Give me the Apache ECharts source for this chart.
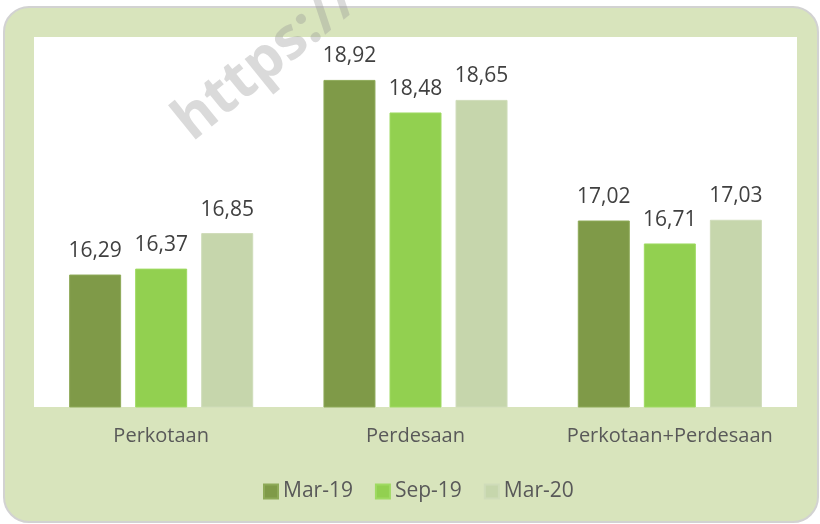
<!DOCTYPE html>
<html>
<head>
<meta charset="utf-8">
<script src="https://cdn.jsdelivr.net/npm/echarts@6/dist/echarts.min.js"></script>
<style>html,body{margin:0;padding:0;background:#fff;}#c{width:820px;height:524px;}</style>
</head>
<body>
<div id="c"></div>
<script>
var categories = ['Perkotaan', 'Perdesaan', 'Perkotaan+Perdesaan'];
var seriesNames = ['Mar-19', 'Sep-19', 'Mar-20'];
var mar19 = [16.29, 18.92, 17.02];
var sep19 = [16.37, 18.48, 16.71];
var mar20 = [16.85, 18.65, 17.03];
var colors = ['#7f9a48', '#92d050', '#c6d6ac'];
var borders = ['#8eaa58', '#9fda62', '#cfdcb9'];

var chart = echarts.init(document.getElementById('c'), null, {renderer: 'canvas'});
var font = '"Open Sans", "Noto Sans", sans-serif';
function fmt(v){ return v.toFixed(2).replace('.', ','); }
var data = [mar19, sep19, mar20];
var series = seriesNames.map(function(n, i){
  return {
    name: n, type: 'bar', data: data[i], barWidth: 52, barGap: '27%',
    itemStyle: {color: colors[i], borderColor: borders[i], borderWidth: 1},
    label: {show: true, position: 'top', distance: 13, color: '#404040', fontFamily: font, fontSize: 21,
      formatter: function(p){ return fmt(p.value); }}
  };
});
chart.setOption({
  animation: false,
  backgroundColor: '#ffffff',
  graphic: [
    {type: 'rect', z: -10, shape: {x: 4, y: 7, width: 814, height: 515, r: 25},
      style: {fill: '#d8e4bc', stroke: '#d2d2d2', lineWidth: 2}},
    {type: 'text', z: 100, x: 200, y: 152, rotation: 39 * Math.PI / 180,
      style: {text: 'https://www', fill: 'rgba(150,150,150,0.35)', font: 'bold 58px "Open Sans", sans-serif', verticalAlign: 'bottom', align: 'left'}}
  ],
  grid: {left: 34, right: 23, top: 37, bottom: 117, show: true, backgroundColor: '#ffffff', borderWidth: 0},
  legend: {
    data: seriesNames, left: 263, top: 481, padding: 0, itemWidth: 14, itemHeight: 14, itemGap: 22,
    icon: 'rect', textStyle: {color: '#595959', fontFamily: font, fontSize: 21, padding: [0,0,0,0]}
  },
  xAxis: {
    type: 'category', data: categories,
    axisLine: {show: false}, axisTick: {show: false},
    axisLabel: {interval: 0, margin: 19, color: '#595959', fontFamily: font, fontSize: 20}
  },
  yAxis: {type: 'value', min: 14.5, max: 19.5, show: false, splitLine: {show: false}},
  series: series
});
</script>
</body>
</html>
